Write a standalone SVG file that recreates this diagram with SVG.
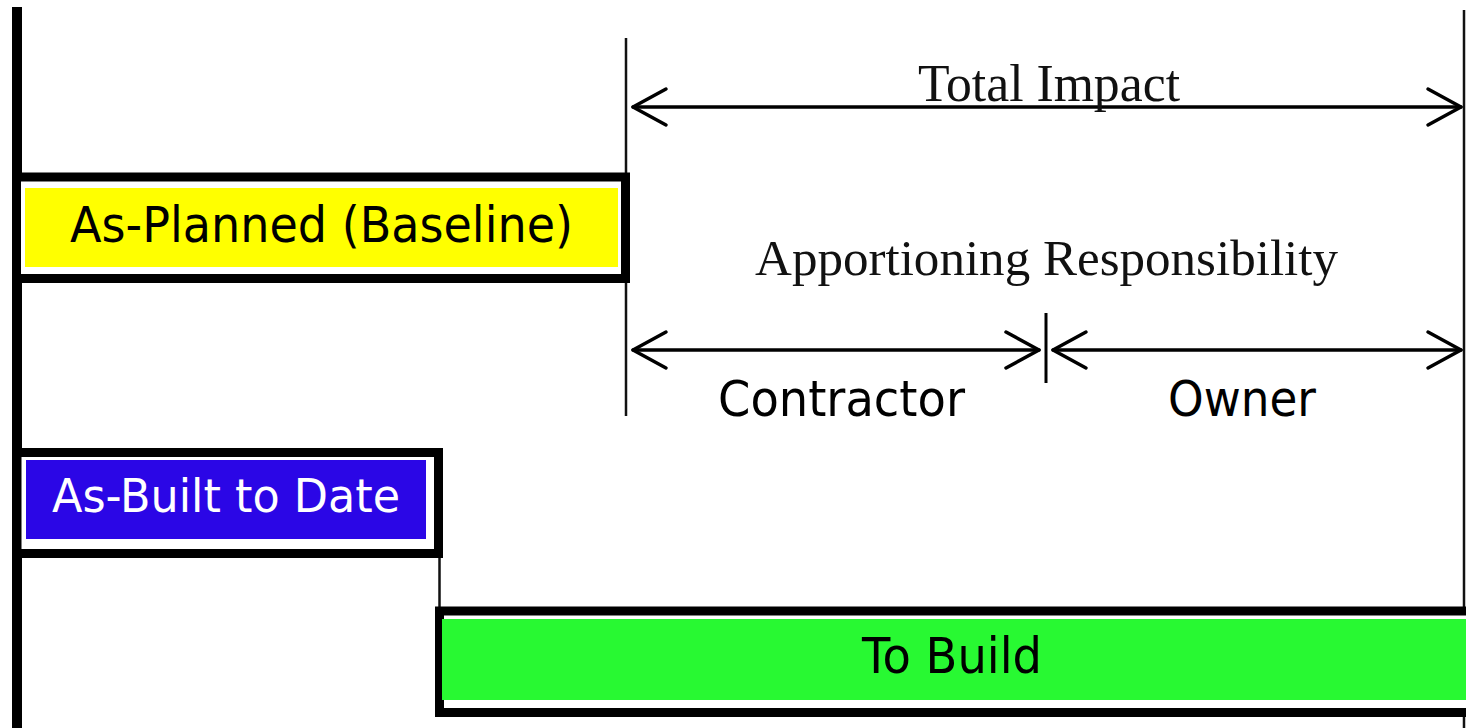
<svg xmlns="http://www.w3.org/2000/svg" width="1466" height="728" viewBox="0 0 1466 728">
<style>
.box{fill:#fff;stroke:#000;stroke-width:9}
.thin{stroke:#111;stroke-width:2.5;fill:none}
.arr{stroke:#000;stroke-width:3.5;fill:none;stroke-linecap:round;stroke-linejoin:round}
.serif{font-family:"Liberation Serif","Times New Roman",serif;fill:#111}
.sans{font-family:"DejaVu Sans","Liberation Sans",sans-serif}
</style>
<rect width="1466" height="728" fill="#fff"/>
<g id="axis">
<line x1="17" y1="7" x2="17" y2="728" stroke="#000" stroke-width="10"/>
<line class="thin" x1="1464" y1="10" x2="1464" y2="728"/>
<line class="thin" x1="626" y1="38" x2="626" y2="416"/>
<line x1="1046" y1="313" x2="1046" y2="383" stroke="#000" stroke-width="3"/>
<line class="thin" x1="439.5" y1="556" x2="439.5" y2="610"/>
</g>
<g id="as-planned">
<rect class="box" x="16.5" y="177" width="609" height="101.5"/>
<rect x="25" y="188" width="593" height="79" fill="#ffff00"/>
<text class="sans" x="321.5" y="242" font-size="49" text-anchor="middle" textLength="503" lengthAdjust="spacingAndGlyphs" fill="#000">As-Planned (Baseline)</text>
</g>
<g id="as-built">
<rect class="box" x="17" y="452.5" width="421.5" height="101"/>
<rect x="26" y="460" width="400" height="79" fill="#2b06e6"/>
<text class="sans" x="226" y="512" font-size="47" text-anchor="middle" textLength="348" lengthAdjust="spacingAndGlyphs" fill="#fff">As-Built to Date</text>
</g>
<g id="to-build">
<rect class="box" x="439.5" y="611" width="1040" height="101.5"/>
<rect x="442" y="619" width="1024" height="81" fill="#28f932"/>
<text class="sans" x="952" y="673" font-size="50" text-anchor="middle" textLength="180" lengthAdjust="spacingAndGlyphs" fill="#000">To Build</text>
</g>
<g id="connectors">
<g id="total-impact-arrow">
<line class="arr" x1="633" y1="107" x2="1461" y2="107"/>
<polyline class="arr" points="666,89 633,107 666,125"/>
<polyline class="arr" points="1428,89 1461,107 1428,125"/>
</g>
<g id="contractor-arrow">
<line class="arr" x1="633" y1="350" x2="1039" y2="350"/>
<polyline class="arr" points="666,332 633,350 666,368"/>
<polyline class="arr" points="1006,332 1039,350 1006,368"/>
</g>
<g id="owner-arrow">
<line class="arr" x1="1053" y1="350" x2="1461" y2="350"/>
<polyline class="arr" points="1086,332 1053,350 1086,368"/>
<polyline class="arr" points="1428,332 1461,350 1428,368"/>
</g>
</g>
<g id="labels">
<text class="serif" x="1049" y="101" font-size="52" text-anchor="middle" textLength="262" lengthAdjust="spacingAndGlyphs">Total Impact</text>
<text class="serif" x="1046.5" y="275" font-size="51" text-anchor="middle" textLength="583" lengthAdjust="spacingAndGlyphs">Apportioning Responsibility</text>
<text class="sans" x="841.5" y="416" font-size="50" text-anchor="middle" textLength="247" lengthAdjust="spacingAndGlyphs" fill="#000">Contractor</text>
<text class="sans" x="1242" y="416" font-size="50" text-anchor="middle" textLength="148" lengthAdjust="spacingAndGlyphs" fill="#000">Owner</text>
</g>
</svg>
